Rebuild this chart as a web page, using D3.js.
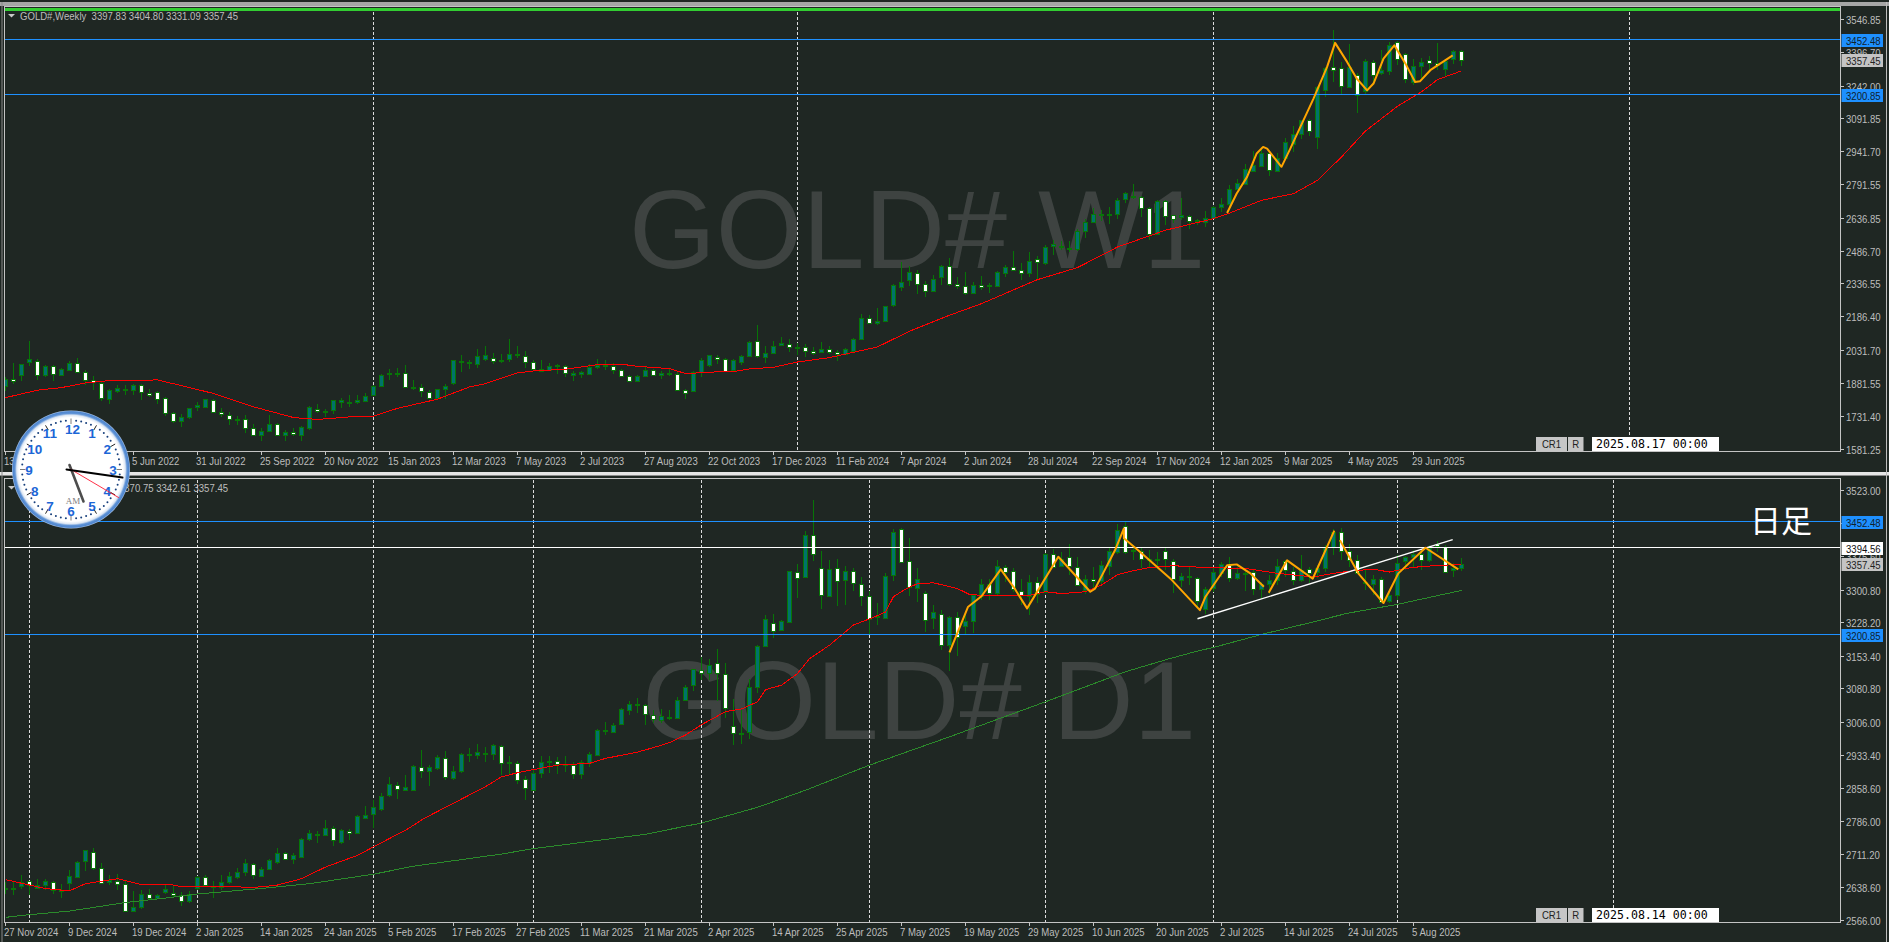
<!DOCTYPE html>
<html lang="en">
<head>
<meta charset="utf-8">
<title>GOLD# W1 / D1</title>
<script src="https://cdn.jsdelivr.net/npm/d3@7/dist/d3.min.js"></script>
<style>
html,body{margin:0;padding:0;background:#1f2723;overflow:hidden}
svg{display:block}
text{font-family:"Liberation Sans",Arial,sans-serif;white-space:pre}
</style>
</head>
<body>
<svg id="c" width="1889" height="942"></svg>
<script>
// ---------- weekly (W1) ----------
const weeklyHigh=[1909,1974,1970,2072,1993,1965,1962,1950,1982,1997,1939,1912,1886,1855,1871,1874,1878,1878,1852,1845,1817,1749,1741,1768,1794,1810,1810,1768,1746,1732,1736,1692,1677,1733,1698,1668,1677,1683,1775,1787,1764,1805,1813,1828,1825,1833,1871,1924,1947,1951,1962,1894,1875,1851,1855,1878,1988,2011,1988,2035,2049,2016,2012,2081,2049,2026,1988,1985,1974,1970,1962,1936,1938,1967,1990,1985,1974,1947,1919,1919,1955,1947,1936,1947,1930,1852,1935,1997,2011,2011,1996,1993,2008,2075,2145,2049,2072,2090,2080,2063,2061,2044,2067,2049,2034,2043,2089,2195,2191,2223,2235,2333,2433,2418,2397,2346,2374,2423,2452,2366,2388,2342,2369,2339,2394,2423,2484,2432,2478,2461,2514,2534,2531,2531,2587,2633,2683,2674,2687,2728,2755,2790,2737,2685,2717,2717,2651,2726,2648,2633,2667,2691,2726,2786,2816,2885,2941,2961,2938,2931,3004,3056,3083,3088,3239,3327,3498,3350,3434,3297,3365,3357,3403,3441,3446,3393,3365,3368,3376,3438,3361,3406,3404.80];
const weeklyLow=[1845,1878,1891,1959,1894,1909,1891,1912,1939,1927,1871,1848,1799,1784,1837,1825,1825,1802,1817,1784,1730,1698,1680,1714,1753,1772,1744,1726,1689,1688,1653,1640,1616,1662,1640,1616,1640,1616,1668,1744,1726,1738,1768,1772,1785,1797,1823,1866,1894,1909,1863,1851,1817,1810,1807,1810,1871,1932,1944,1950,1982,1968,1973,1977,1997,1950,1942,1932,1936,1922,1909,1889,1904,1919,1947,1941,1921,1909,1887,1886,1912,1913,1900,1912,1845,1807,1845,1909,1953,1967,1936,1932,1962,2003,1996,1973,2014,2048,2022,2008,1999,2008,2019,2014,1982,2012,2026,2080,2151,2147,2160,2229,2302,2325,2287,2275,2299,2328,2325,2313,2284,2288,2305,2293,2321,2366,2394,2351,2366,2354,2420,2468,2488,2481,2485,2546,2613,2621,2610,2633,2705,2722,2641,2534,2565,2603,2613,2625,2587,2606,2595,2633,2664,2671,2763,2793,2847,2874,2828,2851,2900,2938,2995,3010,2950,3190,3258,3202,3236,3117,3205,3243,3289,3289,3335,3254,3243,3278,3312,3312,3281,3342,3331.09];
const weeklyOpen=[1863,1901,1918,1976,1982,1922,1959,1921,1944,1973,1932,1894,1881,1807,1845,1851,1849,1872,1836,1840,1813,1744,1707,1726,1767,1772,1805,1749,1735,1712,1717,1675,1645,1662,1694,1643,1656,1645,1677,1762,1749,1755,1793,1793,1793,1801,1826,1868,1921,1924,1927,1860,1862,1840,1811,1854,1881,1977,1977,1970,1991,1997,1982,1991,2009,2006,1977,1939,1944,1962,1959,1918,1918,1922,1956,1962,1961,1942,1915,1891,1913,1941,1918,1924,1924,1849,1845,1929,1964,2002,1991,1936,1977,2005,2073,2000,2019,2052,2060,2043,2046,2029,2023,2037,2025,2015,2031,2083,2180,2157,2165,2238,2321,2353,2386,2334,2302,2362,2417,2336,2327,2293,2331,2324,2325,2385,2412,2398,2385,2446,2430,2508,2504,2494,2494,2578,2618,2650,2651,2656,2719,2731,2732,2682,2565,2714,2650,2641,2645,2622,2618,2638,2687,2702,2769,2793,2854,2877,2935,2853,2911,2976,3020,3085,3007,3223,3327,3322,3236,3292,3219,3350,3297,3310,3441,3388,3258,3333,3359,3345,3318,3364,3397.83];
const weeklyClose=[1897,1891,1970,1990,1918,1961,1924,1947,1974,1933,1897,1887,1813,1848,1857,1855,1874,1842,1828,1810,1746,1709,1727,1768,1778,1807,1749,1741,1715,1718,1677,1643,1663,1695,1645,1659,1646,1680,1772,1752,1755,1801,1801,1796,1801,1822,1868,1919,1927,1926,1863,1863,1843,1814,1854,1868,1987,1982,1971,2005,2008,1984,1988,2015,2015,1979,1947,1947,1961,1964,1926,1926,1929,1956,1965,1964,1942,1915,1892,1915,1942,1919,1926,1926,1849,1833,1932,1984,2008,1993,1938,1984,2003,2070,2006,2020,2052,2063,2046,2046,2029,2020,2038,2025,2015,2038,2084,2180,2157,2166,2235,2331,2345,2391,2336,2302,2357,2414,2336,2327,2293,2331,2321,2328,2389,2412,2400,2385,2441,2432,2505,2516,2510,2500,2578,2619,2654,2654,2656,2720,2748,2735,2683,2565,2715,2647,2633,2648,2624,2625,2635,2688,2702,2770,2798,2862,2880,2935,2857,2912,2985,3022,3083,3036,3236,3324,3315,3239,3327,3202,3356,3289,3312,3429,3365,3274,3333,3351,3345,3335,3356,3399,3357.45];
const weeklyMaIndex=[0,4,7,10,13,14,19,23,26,31,36,39,43,46,49,54,58,60,64,66,70,74,77,79,83,85,89,91,93,96,99,103,109,113,118,122,129,134,139,145,151,153,157,161,164,167,170,174,177,179,182];
const weeklyMaValue=[1814,1848,1860,1881,1892,1892,1895,1860,1833,1772,1723,1714,1726,1729,1765,1807,1863,1878,1927,1936,1944,1965,1967,1957,1947,1924,1932,1933,1945,1953,1977,1997,2046,2118,2191,2244,2354,2409,2503,2580,2633,2658,2717,2747,2808,2915,3034,3147,3213,3269,3309];
const weeklyPenIndex=[152.7,153.9,155.2,156.4,157.2,157.7,159.5,160.6,163.5,165.2,166.2,167.7,168.9,170.2,171,172.25,173.6,175,176.2,176.8,178.1,180.9];
const weeklyPenPrice=[2659,2748,2824,2931,2961,2953,2870,2953,3182,3327,3437,3350,3274,3220,3251,3365,3426,3342,3258,3261,3312,3380];
const weeklyDates=["13 Feb 2022","10 Apr 2022","5 Jun 2022","31 Jul 2022","25 Sep 2022","20 Nov 2022","15 Jan 2023","12 Mar 2023","7 May 2023","2 Jul 2023","27 Aug 2023","22 Oct 2023","17 Dec 2023","11 Feb 2024","7 Apr 2024","2 Jun 2024","28 Jul 2024","22 Sep 2024","17 Nov 2024","12 Jan 2025","9 Mar 2025","4 May 2025","29 Jun 2025"];
const weeklyPriceTicks=[3546.85,3396.70,3242.00,3091.85,2941.70,2791.55,2636.85,2486.70,2336.55,2186.40,2031.70,1881.55,1731.40,1581.25];
const weeklySeparators=[46,99,151,203];

// ---------- daily (D1) ----------
const dailyHigh=[2650,2650,2666,2653,2657,2657,2652,2646,2677,2697,2722,2726,2693,2666,2667,2652,2629,2633,2635,2623,2643,2640,2628,2629,2663,2666,2652,2665,2672,2680,2700,2693,2683,2702,2726,2717,2715,2747,2765,2763,2787,2774,2768,2767,2800,2819,2832,2847,2883,2872,2888,2911,2943,2910,2932,2942,2907,2937,2948,2956,2951,2956,2954,2931,2920,2885,2899,2930,2930,2927,2931,2917,2922,2940,2990,3005,3003,3038,3052,3059,3047,3032,3036,3032,3061,3089,3125,3151,3147,3168,3138,3057,3032,3101,3177,3245,3246,3234,3343,3357,3431,3500,3386,3366,3370,3353,3350,3328,3297,3270,3337,3435,3437,3415,3348,3297,3266,3256,3242,3252,3248,3291,3325,3325,3366,3355,3348,3325,3333,3329,3383,3392,3385,3403,3374,3333,3352,3365,3395,3447,3452,3400,3396,3389,3385,3395,3370,3337,3352,3329,3307,3348,3363,3374,3352,3348,3344,3318,3333,3370,3366,3352,3377,3352,3355,3400,3435,3439,3403,3377,3346,3333,3329,3294,3377,3375,3389,3390,3400,3409,3400,3360,3370.75];
const dailyLow=[2624,2620,2634,2620,2635,2633,2623,2614,2630,2660,2674,2676,2646,2643,2633,2585,2583,2590,2609,2611,2623,2613,2597,2604,2633,2639,2615,2633,2646,2657,2664,2657,2660,2677,2689,2700,2689,2703,2741,2737,2752,2729,2735,2743,2756,2790,2771,2808,2838,2834,2853,2853,2881,2863,2900,2876,2876,2893,2917,2924,2917,2921,2887,2891,2867,2832,2854,2882,2893,2890,2895,2880,2879,2906,2931,2977,2982,2999,3021,3025,2999,3003,3003,3010,3016,3053,3075,3099,3099,3053,3015,2954,2958,2968,3071,3173,3193,3209,3228,3282,3328,3364,3258,3286,3264,3267,3297,3264,3202,3222,3236,3320,3359,3286,3274,3207,3214,3166,3119,3153,3203,3205,3277,3277,3288,3318,3296,3266,3244,3271,3296,3350,3351,3333,3308,3292,3300,3311,3333,3381,3381,3366,3348,3348,3348,3344,3294,3307,3311,3262,3246,3296,3329,3318,3322,3297,3288,3281,3292,3311,3329,3311,3318,3316,3326,3340,3377,3366,3352,3337,3300,3288,3270,3271,3277,3344,3352,3344,3363,3385,3340,3329,3342.61];
const dailyOpen=[2634,2634,2639,2652,2638,2643,2650,2631,2646,2661,2695,2717,2682,2649,2652,2646,2585,2594,2623,2614,2628,2626,2620,2608,2635,2660,2639,2637,2648,2660,2670,2690,2663,2679,2695,2715,2701,2706,2744,2755,2755,2770,2739,2764,2759,2793,2800,2813,2842,2866,2856,2856,2906,2897,2905,2926,2882,2897,2933,2933,2935,2935,2953,2915,2915,2878,2856,2893,2918,2919,2911,2911,2889,2914,2933,2987,2984,3000,3033,3045,3044,3021,3010,3016,3017,3056,3087,3121,3114,3138,3113,2998,2980,2983,3083,3176,3227,3211,3230,3340,3329,3423,3349,3287,3349,3323,3343,3314,3287,3239,3238,3334,3436,3365,3306,3294,3236,3246,3176,3240,3218,3230,3288,3314,3294,3352,3342,3298,3285,3318,3297,3381,3354,3374,3352,3300,3325,3320,3353,3385,3443,3387,3387,3368,3368,3387,3365,3323,3331,3327,3259,3303,3337,3355,3325,3335,3339,3301,3313,3323,3364,3343,3322,3346,3340,3349,3396,3429,3387,3366,3317,3314,3325,3275,3290,3364,3373,3381,3368,3402,3396,3343,3348];
const dailyClose=[2637,2637,2649,2642,2644,2651,2633,2633,2662,2695,2720,2682,2649,2654,2646,2585,2595,2624,2615,2620,2635,2622,2606,2623,2660,2642,2640,2649,2662,2671,2691,2665,2678,2698,2715,2702,2709,2746,2758,2756,2771,2743,2765,2760,2796,2800,2816,2842,2867,2856,2862,2909,2898,2905,2929,2883,2898,2935,2935,2940,2938,2954,2916,2916,2878,2858,2893,2918,2920,2912,2912,2890,2916,2934,2989,2989,3000,3034,3047,3047,3023,3012,3020,3017,3056,3084,3123,3115,3132,3115,3038,2983,2982,3083,3175,3236,3210,3230,3343,3326,3423,3381,3288,3347,3319,3343,3317,3288,3236,3242,3332,3430,3363,3307,3325,3234,3250,3176,3239,3196,3230,3288,3314,3294,3354,3340,3301,3288,3317,3292,3381,3353,3370,3353,3313,3325,3321,3355,3386,3433,3386,3389,3369,3369,3370,3369,3324,3332,3328,3275,3303,3339,3357,3325,3337,3337,3301,3313,3323,3354,3344,3323,3344,3337,3350,3395,3430,3386,3368,3338,3316,3325,3274,3288,3361,3373,3380,3368,3394,3398,3341,3348,3357.45];
const dailyMa20Index=[0,3,5,8,10,14,17,21,22,26,29,30,32,34,37,40,44,46,50.2,52.3,55,60,62,64,66,69,73,75,77,79,81,83,85,87,90,92,94,95,97,99,100.5,103,105,106,108.5,110,111,112.5,114,116,119,120.5,122,128,130,132,135,137,139,141,143,146,150,155,159,163.5,166,168.5,171,173,175.7,178.5,182];
const dailyMa20Value=[2655,2643,2635,2630,2646,2657,2644,2643,2639,2639,2640,2637,2639,2643,2657,2683,2709,2728,2767,2791,2816,2862,2884,2893,2900,2910,2914,2925,2932,2939,2949,2960,2977,3000,3029,3035,3051,3078,3088,3114,3147,3177,3207,3222,3239,3251,3285,3302,3314,3316,3303,3290,3288,3288,3296,3292,3296,3311,3334,3343,3350,3354,3350,3348,3337,3329,3337,3343,3346,3340,3350,3354,3357];
const dailyMa200Index=[0,3,8,15,20,24,26,33,38,46,51,58,62,66,80,85,87,94,100,108,118,130,140,145.5,149,151,157,163.5,167.7,174,182];
const dailyMa200Value=[2571,2577,2585,2604,2614,2623,2626,2637,2646,2667,2685,2702,2712,2724,2756,2774,2781,2816,2854,2910,2973,3051,3118,3147,3164,3172,3201,3229,3248,3268,3299];
const dailyPenAIndex=[118,120.3,122,124.4,126,127.7,131.6,135.6,136.2,138.7,139.8,139.8,141.8,145.8,149.3,150,152.7,153.9,155.6,157.3];
const dailyPenAPrice=[3161,3262,3286,3346,3307,3259,3374,3296,3303,3389,3437,3415,3385,3322,3255,3285,3355,3357,3337,3307];
const dailyPenBIndex=[157.9,160.2,163.4,166.1];
const dailyPenBPrice=[3294,3366,3325,3432];
const dailyPenCIndex=[166.8,169.1,172.25,174.1,177.5,181.6];
const dailyPenCPrice=[3411,3337,3271,3337,3394,3346];
const dailyTrendIndex=[149,180.9];
const dailyTrendPrice=[3236,3412];
const dailyDates=["27 Nov 2024","9 Dec 2024","19 Dec 2024","2 Jan 2025","14 Jan 2025","24 Jan 2025","5 Feb 2025","17 Feb 2025","27 Feb 2025","11 Mar 2025","21 Mar 2025","2 Apr 2025","14 Apr 2025","25 Apr 2025","7 May 2025","19 May 2025","29 May 2025","10 Jun 2025","20 Jun 2025","2 Jul 2025","14 Jul 2025","24 Jul 2025","5 Aug 2025"];
const dailyPriceTicks=[3523.00,3448.20,3375.60,3300.80,3228.20,3153.40,3080.80,3006.00,2933.40,2858.60,2786.00,2711.20,2638.60,2566.00];
const dailySeparators=[3,24,46,66,87,108,130,151,174,201];

const blueLevels=[3452.48,3200.85];
const whiteLevel=3394.56;
const lastPrice=3357.45;
const clockHours=[12,1,2,3,4,5,6,7,8,9,10,11];

const svg=d3.select("#c");
const C={bg:"#1f2723",up:"#00736b",edge:"#077507",blue:"#1e90ff",axis:"#c4c4c4",label:"#bdbdbd",orange:"#ffa500",red:"#ff0000",green:"#2b8a2b",wm:"#3e4341"};
const barStep=8, tickEvery=8, plotL=4.5, plotR=1840.5;
const condense=0.87;
const x=d3.scaleLinear().domain([0,182]).range([5.5,5.5+182*barStep]);

svg.append("rect").attr("width",1889).attr("height",942).attr("fill",C.bg);
// window chrome
svg.append("rect").attr("x",0).attr("y",2).attr("width",1889).attr("height",4).attr("fill","#a6a6a6");
svg.append("rect").attr("x",0).attr("y",472).attr("width",1889).attr("height",3).attr("fill","#e6e6e6");
svg.append("rect").attr("x",0).attr("y",475).attr("width",1889).attr("height",1).attr("fill","#8a8a8a");
svg.append("rect").attr("x",1.5).attr("y",2).attr("width",1).attr("height",940).attr("fill","#8a8a8a");
svg.append("rect").attr("x",1886).attr("y",2).attr("width",1).attr("height",940).attr("fill","#bdbdbd");

function linePath(g,yS,idx,val,color,width,crisp){
  const pts=idx.map((d,i)=>[x(d),yS(val[i])]);
  g.append("path").attr("d",d3.line()(pts)).attr("fill","none").attr("stroke",color)
   .attr("stroke-width",width).attr("stroke-linejoin","round")
   .attr("shape-rendering",crisp?"crispEdges":"auto");
}

function panel(o){
  const y=d3.scaleLinear().domain(o.yDomain).range(o.yRange);
  const g=svg.append("g");
  const clipId="clip"+o.name;
  svg.append("clipPath").attr("id",clipId).append("rect")
    .attr("x",plotL).attr("y",o.top).attr("width",plotR-plotL).attr("height",o.bottom-o.top);
  const p=g.append("g").attr("clip-path",`url(#${clipId})`);

  // watermark
  p.append("text").attr("class","keep").attr("x",o.wmX).attr("y",o.wmY).attr("fill",C.wm)
    .style("font-size",o.wmSize+"px").text(o.wm);

  // period separators
  p.selectAll(".sep").data(o.separators).join("line")
    .attr("x1",d=>x(d)).attr("x2",d=>x(d)).attr("y1",o.top+(o.green?5:1)).attr("y2",o.bottom)
    .attr("stroke","#dcdcdc").attr("stroke-width",1).attr("stroke-dasharray","3,2").attr("shape-rendering","crispEdges");

  // candles
  const idx=d3.range(o.open.length);
  p.selectAll(".wick").data(idx).join("line")
    .attr("x1",i=>x(i)).attr("x2",i=>x(i))
    .attr("y1",i=>Math.round(y(o.high[i]))).attr("y2",i=>Math.round(y(o.low[i])))
    .attr("stroke",C.edge).attr("stroke-width",1).attr("shape-rendering","crispEdges");
  p.selectAll(".body").data(idx).join("rect")
    .attr("x",i=>x(i)-2)
    .attr("width",4)
    .attr("y",i=>Math.round(y(Math.max(o.open[i],o.close[i])))+0.5)
    .attr("height",i=>Math.max(1,Math.round(Math.abs(y(o.open[i])-y(o.close[i])))))
    .attr("fill",i=>o.close[i]>=o.open[i]?C.up:"#ffffff")
    .attr("stroke",C.edge).attr("stroke-width",1).attr("shape-rendering","crispEdges");

  // indicators
  o.lines.forEach(l=>linePath(p,y,l[0],l[1],l[2],l[3],true));

  // horizontal levels
  blueLevels.forEach(v=>p.append("line").attr("x1",plotL).attr("x2",plotR).attr("y1",y(v)).attr("y2",y(v))
     .attr("stroke",C.blue).attr("stroke-width",1).attr("shape-rendering","crispEdges"));
  if(o.white) p.append("line").attr("x1",plotL).attr("x2",plotR).attr("y1",y(o.white)).attr("y2",y(o.white))
     .attr("stroke","#ffffff").attr("stroke-width",1).attr("shape-rendering","crispEdges");

  // hand-drawn annotations
  o.pens.forEach(l=>linePath(p,y,l[0],l[1],l[2],l[3],l[4]));

  if(o.green) p.append("rect").attr("x",plotL).attr("y",8).attr("width",plotR-plotL).attr("height",3).attr("fill","#32cd32");

  // frame
  g.append("path").attr("d",`M${plotL},${o.top}H${plotR}V${o.bottom}H${plotL}Z`)
    .attr("fill","none").attr("stroke",C.axis).attr("stroke-width",1).attr("shape-rendering","crispEdges");

  // price axis
  g.selectAll(".pt").data(o.ticks).join("line")
    .attr("x1",plotR).attr("x2",plotR+3).attr("y1",d=>Math.round(y(d))+.5).attr("y2",d=>Math.round(y(d))+.5)
    .attr("stroke",C.axis).attr("shape-rendering","crispEdges");
  g.selectAll(".pl").data(o.ticks).join("text")
    .attr("x",1846).attr("y",d=>y(d)+5).attr("fill",C.label).style("font-size","11px").text(d=>d.toFixed(2));

  // time axis
  const tickX=i=>x(i*tickEvery);
  g.selectAll(".tt").data(o.dates).join("line")
    .attr("x1",(d,i)=>tickX(i)).attr("x2",(d,i)=>tickX(i)).attr("y1",o.bottom).attr("y2",o.bottom+3)
    .attr("stroke",C.axis).attr("shape-rendering","crispEdges");
  g.selectAll(".tl").data(o.dates).join("text")
    .attr("x",(d,i)=>tickX(i)-1.5).attr("y",o.bottom+13).attr("fill",C.label).style("font-size","11px").text(d=>d);

  // price tags
  o.tags.forEach(t=>{
    const yy=y(t[0]);
    g.append("rect").attr("x",1841.5).attr("y",Math.round(yy)-6).attr("width",41.5).attr("height",13).attr("fill",t[1]);
    g.append("text").attr("x",1846).attr("y",yy+5).attr("fill",t[2]).style("font-size","11px").text(t[0].toFixed(2));
  });

  // header
  g.append("path").attr("d",`M8,${o.top+7.5}h7l-3.5,3.5z`).attr("fill","#c8c8c8");
  g.append("text").attr("x",20).attr("y",o.top+13).attr("fill",C.label).style("font-size","11px").text(o.header);

  // one-click buttons and date box
  const by=o.bottom-14.5;
  [[1536,31,"CR1"],[1568,15.5,"R"]].forEach(b=>{
    g.append("rect").attr("x",b[0]).attr("y",by).attr("width",b[1]).attr("height",14).attr("fill","#c6c6c6");
    g.append("text").attr("x",b[0]+b[1]/2).attr("y",by+11).attr("text-anchor","middle").attr("fill","#222").style("font-size","11px").text(b[2]);
  });
  g.append("rect").attr("x",1592).attr("y",by).attr("width",127).attr("height",14).attr("fill","#ffffff");
  g.append("text").attr("class","keep").attr("x",1596).attr("y",by+11).attr("fill","#000")
    .style("font-family",'"DejaVu Sans Mono",monospace').style("font-size","11.6px").text(o.stamp);

  // the platform's label font is narrow: condense the small labels to the same widths
  g.selectAll("text").filter(function(){return !this.classList.contains("keep");}).each(function(){
    d3.select(this).attr("textLength",this.getComputedTextLength()*condense).attr("lengthAdjust","spacingAndGlyphs");
  });
  return y;
}

panel({name:"W",top:6.5,bottom:451.5,green:true,
  yDomain:[3200.85,3452.48],yRange:[94.5,39.5],
  open:weeklyOpen,high:weeklyHigh,low:weeklyLow,close:weeklyClose,
  lines:[[weeklyMaIndex,weeklyMaValue,C.red,1]],
  pens:[[weeklyPenIndex,weeklyPenPrice,C.orange,2,false]],
  separators:weeklySeparators,ticks:weeklyPriceTicks,dates:weeklyDates,
  wm:"GOLD# W1",wmX:629,wmY:268,wmSize:111.5,
  tags:[[blueLevels[0],C.blue,"#10202c"],[blueLevels[1],C.blue,"#10202c"],[lastPrice,"#c4c4c4","#222"]],
  header:"GOLD#,Weekly  3397.83 3404.80 3331.09 3357.45",stamp:"2025.08.17 00:00"});

panel({name:"D",top:478.5,bottom:922.5,green:false,white:whiteLevel,
  yDomain:[3200.85,3452.48],yRange:[634.5,521.5],
  open:dailyOpen,high:dailyHigh,low:dailyLow,close:dailyClose,
  lines:[[dailyMa200Index,dailyMa200Value,C.green,1],[dailyMa20Index,dailyMa20Value,C.red,1]],
  pens:[[dailyTrendIndex,dailyTrendPrice,"#ffffff",1.4,false],
        [dailyPenAIndex,dailyPenAPrice,C.orange,2,false],
        [dailyPenBIndex,dailyPenBPrice,C.orange,2,false],
        [dailyPenCIndex,dailyPenCPrice,C.orange,2,false]],
  separators:dailySeparators,ticks:dailyPriceTicks,dates:dailyDates,
  wm:"GOLD# D1",wmX:642,wmY:739,wmSize:112,
  tags:[[blueLevels[0],C.blue,"#10202c"],[blueLevels[1],C.blue,"#10202c"],[whiteLevel,"#ffffff","#111"],[lastPrice,"#c4c4c4","#222"]],
  header:"GOLD#,Daily  3347.80 3370.75 3342.61 3357.45",stamp:"2025.08.14 00:00"});

// Japanese note
svg.append("text").attr("x",1750).attr("y",532).attr("fill","#ffffff")
  .style("font-family",'"Noto Sans CJK JP",sans-serif').style("font-size","31px").text("日足");

// desktop clock widget
const defs=svg.append("defs");
const rg=defs.append("radialGradient").attr("id","ring");
[[0,"#ffffff"],[0.88,"#ffffff"],[0.92,"#dfe8f4"],[0.95,"#5f93d6"],[0.98,"#4f86cf"],[1,"#a9c4e6"]].forEach(s=>rg.append("stop").attr("offset",s[0]).attr("stop-color",s[1]));
const ck=svg.append("g").attr("transform","translate(71,469.5)");
ck.append("circle").attr("r",59).attr("fill","url(#ring)");
const ang=d3.scaleLinear().domain([0,60]).range([-Math.PI/2,1.5*Math.PI]);
d3.range(60).forEach(m=>{
  const a=ang(m),hr=m%5===0;
  if(hr){
    ck.append("line").attr("x1",45.5*Math.cos(a)).attr("y1",45.5*Math.sin(a)).attr("x2",51*Math.cos(a)).attr("y2",51*Math.sin(a))
      .attr("stroke",m%15===0?"#7a7a7a":"#222").attr("stroke-width",1);
  }else{
    ck.append("circle").attr("cx",49*Math.cos(a)).attr("cy",49*Math.sin(a)).attr("r",1).attr("fill","#173f7c");
  }
});
clockHours.forEach((h,i)=>{
  const a=ang(i*5),r=(h===12||h===6)?41:42;
  ck.append("text").attr("x",r*Math.cos(a)+(h===12?1.5:0)).attr("y",r*Math.sin(a)+5).attr("text-anchor","middle")
    .attr("fill","#1c66d6").style("font-weight","bold").style("font-size","13.5px").text(h);
});
ck.append("text").attr("x",2).attr("y",34).attr("text-anchor","middle").attr("fill","#7d7d7d")
  .style("font-family",'"Liberation Serif",serif').style("font-size","9px").text("AM");
const hand=(x1,y1,x2,y2,c,w)=>ck.append("line").attr("x1",x1).attr("y1",y1).attr("x2",x2).attr("y2",y2).attr("stroke",c).attr("stroke-width",w).attr("stroke-linecap","round");
hand(-1.5,-4.5,12.5,32,"#4d4d4d",2.6);
hand(0,0,47.5,28,"#ff1a33",0.9);
hand(-4.5,0,51.5,8,"#000000",2);
</script>
</body>
</html>
